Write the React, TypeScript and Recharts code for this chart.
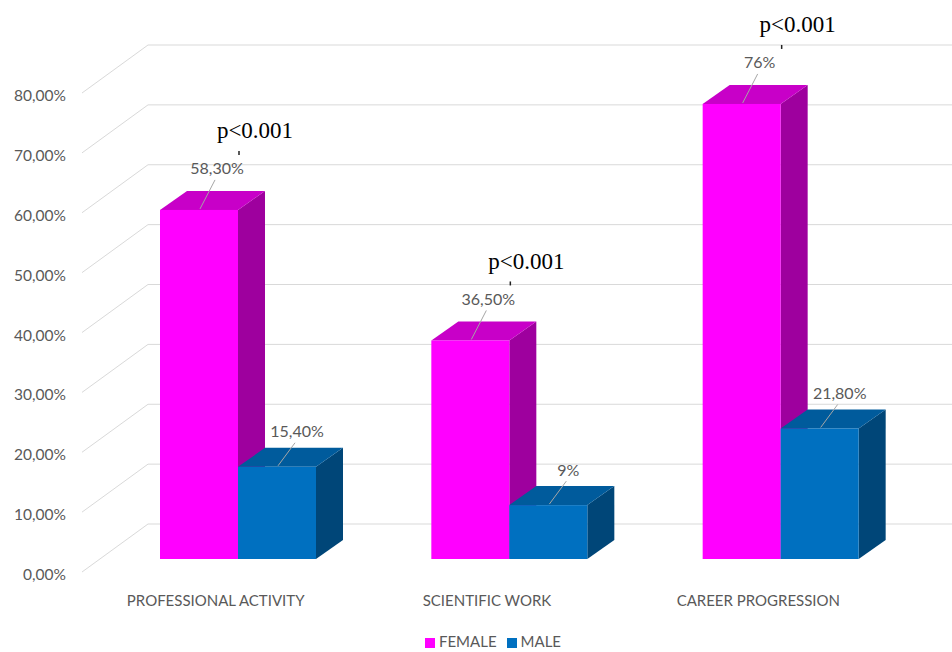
import { Bar, BarChart, CartesianGrid, LabelList, Legend, XAxis, YAxis } from 'recharts';

const categories = ['PROFESSIONAL ACTIVITY', 'SCIENTIFIC WORK', 'CAREER PROGRESSION'];
const female = [58.3, 36.5, 76];
const male = [15.4, 9, 21.8];
const pValues = ['p<0.001', 'p<0.001', 'p<0.001'];
const yTicks = [0, 10, 20, 30, 40, 50, 60, 70, 80];

const data = categories.map((name, i) => ({
  name,
  female: female[i],
  male: male[i],
  p: pValues[i],
}));

// depth of the fake 3D boxes
const DX = 27;
const DY = 19;
const GRID = '#d9d9d9';
const TEXT = '#595959';
const FONT = 'Lato, "Open Sans", sans-serif';

const FEMALE = { front: '#ff00ff', top: '#c800c8', side: '#9e009e' };
const MALE = { front: '#0070c0', top: '#005b9c', side: '#004678' };

const fmtPct = (v: number) =>
  Number.isInteger(v) ? `${v}%` : `${v.toFixed(2).replace('.', ',')}%`;
const fmtTick = (v: number) => `${v.toFixed(2).replace('.', ',')}%`;

const box = (c: { front: string; top: string; side: string }) => (props: any) => {
  const { x, y, width: w, height: h } = props;
  if (h <= 0) return <g />;
  return (
    <g>
      <polygon
        points={`${x + w},${y} ${x + w + DX},${y - DY} ${x + w + DX},${y + h - DY} ${x + w},${y + h}`}
        fill={c.side}
      />
      <polygon
        points={`${x},${y} ${x + DX},${y - DY} ${x + w + DX},${y - DY} ${x + w},${y}`}
        fill={c.top}
      />
      <rect x={x} y={y} width={w} height={h} fill={c.front} />
    </g>
  );
};

// back wall line + diagonal to the front label plane
const gridLine = (props: any) => {
  const { y1, index } = props;
  const by = y1 - 35;
  return (
    <g key={`grid-${index}`}>
      <line x1={82} y1={y1 + 13} x2={148} y2={by} stroke={GRID} strokeWidth={1} />
      <line x1={148} y1={by} x2={952} y2={by} stroke={GRID} strokeWidth={1} />
    </g>
  );
};

const valueLabel = (ox: number, oy: number) => (props: any) => {
  const { x, y, width, value } = props;
  const cx = x + width / 2;
  return (
    <g>
      <line x1={cx + 1} y1={y - 1} x2={cx + ox - 2} y2={y + oy + 12} stroke="#a6a6a6" />
      <text
        x={cx + ox}
        y={y + oy}
        textAnchor="middle"
        dominantBaseline="central"
        fontSize={16}
        fill={TEXT}
        fontFamily={FONT}
      >
        {fmtPct(value)}
      </text>
    </g>
  );
};

const pLabel = (props: any) => {
  const { x, y, width, value } = props;
  const cx = x + width / 2 + 56;
  const cy = y - 79;
  return (
    <g>
      <text
        x={cx}
        y={cy}
        textAnchor="middle"
        dominantBaseline="central"
        fontSize={23}
        fill="#000"
        fontFamily='"Liberation Serif", "Times New Roman", serif'
      >
        {value}
      </text>
      <line x1={cx - 16} y1={cy + 20} x2={cx - 16} y2={cy + 24} stroke="#222" strokeWidth={1.5} />
    </g>
  );
};

const YTick = (props: any) => {
  const { y, payload } = props;
  return (
    <text x={66} y={y + 15} textAnchor="end" dominantBaseline="central" fontSize={15.5} fill={TEXT} fontFamily={FONT}>
      {fmtTick(payload.value)}
    </text>
  );
};

const XTick = (props: any) => {
  const { x, payload } = props;
  return (
    <text x={x - 22} y={600} textAnchor="middle" dominantBaseline="central" fontSize={15} fill={TEXT} fontFamily={FONT}>
      {payload.value}
    </text>
  );
};

export default function App() {
  return (
    <div style={{ position: 'absolute', left: 0, top: 0, background: '#fff', fontFamily: FONT }}>
      <BarChart
        width={952}
        height={652}
        data={data}
        margin={{ top: 80, right: 36, left: 0, bottom: 0 }}
        barGap={0}
        barSize={78}
      >
        <CartesianGrid vertical={false} horizontal={gridLine} />
        <XAxis dataKey="name" axisLine={false} tickLine={false} height={73} tick={<XTick />} interval={0} />
        <YAxis
          domain={[0, 80]}
          ticks={yTicks}
          width={102}
          axisLine={false}
          tickLine={false}
          tick={<YTick />}
        />
        <Legend
          verticalAlign="bottom"
          height={20}
          iconType="square"
          iconSize={10}
          wrapperStyle={{ fontSize: 15, fontFamily: FONT, left: 40 }}
          formatter={(v: string) => <span style={{ color: TEXT }}>{v}</span>}
        />
        <Bar dataKey="female" name="FEMALE" fill={FEMALE.front} shape={box(FEMALE)} isAnimationActive={false}>
          <LabelList dataKey="female" content={valueLabel(18, -42)} />
          <LabelList dataKey="p" content={pLabel} />
        </Bar>
        <Bar dataKey="male" name="MALE" fill={MALE.front} shape={box(MALE)} isAnimationActive={false}>
          <LabelList dataKey="male" content={valueLabel(20, -36)} />
        </Bar>
      </BarChart>
    </div>
  );
}
